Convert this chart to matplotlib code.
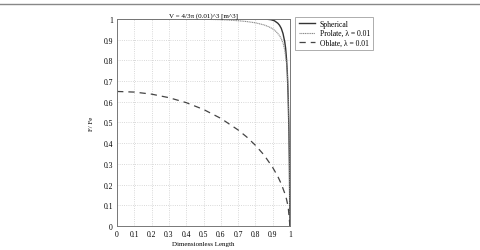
import matplotlib
matplotlib.use('Agg')
import matplotlib.pyplot as plt
from matplotlib.lines import Line2D

# values
sph_x = [0, 0.2, 0.4, 0.6, 0.8, 0.85, 0.87, 0.89, 0.91, 0.93, 0.94, 0.95, 0.96, 0.97,
         0.975, 0.98, 0.985, 0.99, 0.994, 0.997, 1.0]
sph_y = [1, 1, 1, 1, 1, 1, 0.999, 0.997, 0.992, 0.98, 0.97, 0.955, 0.93, 0.89,
         0.86, 0.81, 0.74, 0.62, 0.47, 0.3, 0.0]

pro_x = [0, 0.3, 0.5, 0.6, 0.65, 0.7, 0.75, 0.8, 0.85, 0.88, 0.9, 0.92, 0.94, 0.95,
         0.96, 0.97, 0.98, 0.985, 0.99, 0.994, 0.997, 1.0]
pro_y = [1, 1, 0.999, 0.997, 0.995, 0.992, 0.988, 0.982, 0.972, 0.962, 0.953, 0.94,
         0.92, 0.905, 0.885, 0.85, 0.79, 0.74, 0.64, 0.5, 0.33, 0.0]

obl_x = [0, 0.1, 0.2, 0.3, 0.4, 0.5, 0.6, 0.7, 0.75, 0.8, 0.85, 0.9, 0.93, 0.95,
         0.97, 0.98, 0.99, 1.0]
obl_y = [0.65, 0.647, 0.637, 0.62, 0.596, 0.563, 0.52, 0.464, 0.43, 0.39, 0.343,
         0.283, 0.239, 0.203, 0.158, 0.13, 0.092, 0.0]

ticks = [0, 0.1, 0.2, 0.3, 0.4, 0.5, 0.6, 0.7, 0.8, 0.9, 1]
tick_labels = ['0', '0.1', '0.2', '0.3', '0.4', '0.5', '0.6', '0.7', '0.8', '0.9', '1']

plt.rcParams['font.family'] = ['Liberation Serif', 'DejaVu Serif']

fig = plt.figure(figsize=(4.8, 2.51), dpi=100)
fig.add_artist(Line2D([0, 1], [0.98, 0.98], color='#888888', lw=1.0))
ax = fig.add_axes([0.244, 0.096, 0.36, 0.824])

ax.plot(sph_x, sph_y, color='#333333', lw=1.0, label='Spherical')
ax.plot(pro_x, pro_y, color='#888888', lw=0.8, ls=(0, (1, 0.6)), label='Prolate, λ = 0.01')
ax.plot(obl_x, obl_y, color='#444444', lw=0.9, ls=(0, (5, 4)), label='Oblate, λ = 0.01')

ax.set_xlim(0, 1)
ax.set_ylim(0, 1)
ax.set_xticks(ticks, tick_labels)
ax.set_yticks(ticks, tick_labels)
ax.tick_params(labelsize=5.5, length=0, pad=3)
ax.grid(True, color='#cccccc', ls=':', lw=0.6)
for s in ax.spines.values():
    s.set_color('#777777')
    s.set_linewidth(0.7)

ax.set_title('V = 4/3π (0.01)^3 [m^3]', fontsize=5, pad=2)
ax.set_xlabel('Dimensionless Length', fontsize=5, labelpad=2)
ax.set_ylabel('F/ Fe', fontsize=5, labelpad=7)

leg = ax.legend(loc='upper left', bbox_to_anchor=(1.01, 1.03), fontsize=5.5,
                frameon=True, fancybox=False, borderpad=0.4, handlelength=2.2,
                labelspacing=0.2, handletextpad=0.6)
leg.get_frame().set_edgecolor('#888888')
leg.get_frame().set_linewidth(0.6)

fig.savefig('out.png', dpi=100)
